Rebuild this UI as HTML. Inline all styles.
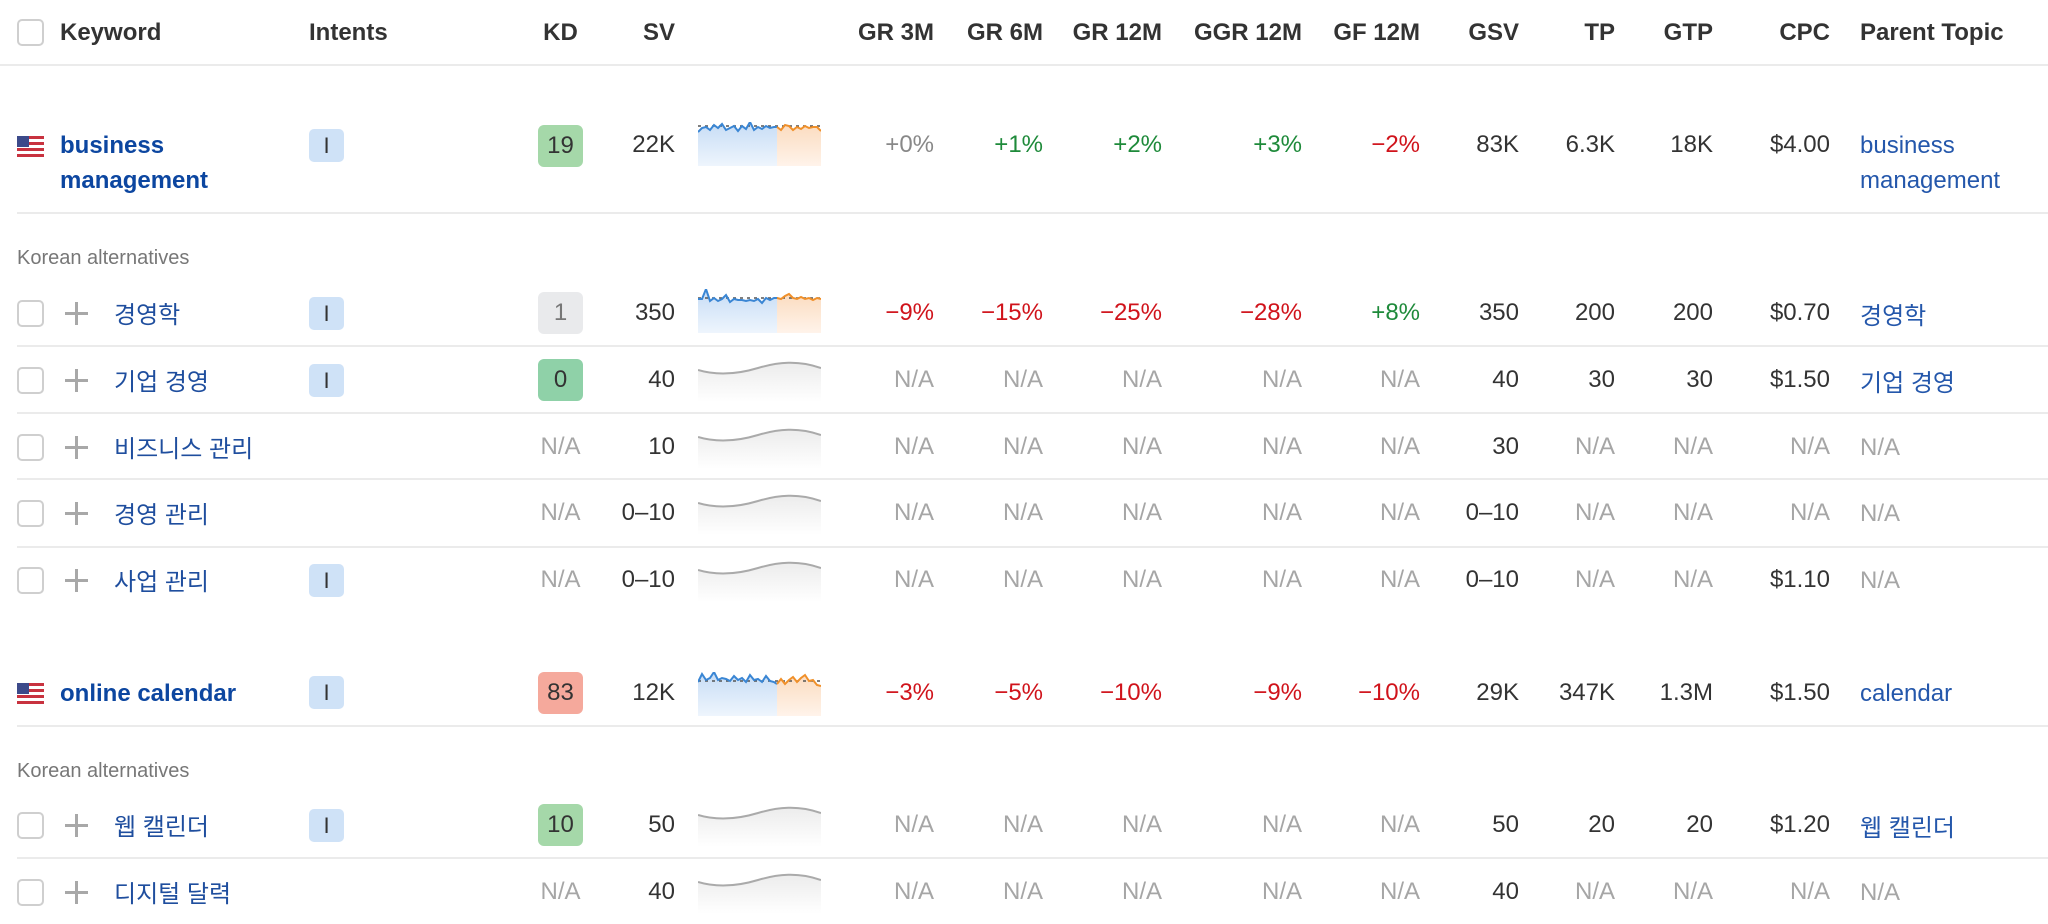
<!DOCTYPE html>
<html><head><meta charset="utf-8">
<style>
*{margin:0;padding:0;box-sizing:border-box}
body{width:2048px;height:924px;background:#fff;position:relative;overflow:hidden;font-family:"Liberation Sans","Noto Sans CJK KR",sans-serif;font-size:24px;color:#333}
.a{position:absolute;height:34px;line-height:34px;white-space:nowrap}
.r{text-align:right}
.h{font-weight:bold;color:#333}
.sep{position:absolute;left:17px;right:0;height:2px;background:#ebebeb}
.cb{position:absolute;left:17px;width:27px;height:27px;border:2px solid #cfcfcf;border-radius:5px;background:#fff}
.plus{position:absolute;left:65px;width:23px;height:23px}
.plus:before{content:"";position:absolute;left:10px;top:0;width:2.5px;height:23px;background:#a8a8a8}
.plus:after{content:"";position:absolute;left:0;top:10px;width:23px;height:2.5px;background:#a8a8a8}
.kw{position:absolute;left:114px;height:34px;line-height:34px;color:#1f4e9e;font-size:24px;margin-top:3px}
.mk{position:absolute;left:60px;color:#0c46a0;font-weight:bold;font-size:24px;line-height:35px}
.ib{position:absolute;left:309px;width:35px;height:33px;border-radius:5px;background:#cfe2f7;color:#333;text-align:center;line-height:33px;font-size:22px}
.kd{position:absolute;left:538px;width:45px;height:42px;border-radius:6px;text-align:center;line-height:42px;font-size:24px;color:#333}
.na{color:#a6a6a6}
.g{color:#1e8a3a}.rd{color:#d0131b}.gr{color:#888}
.pt{position:absolute;left:1860px;color:#2457ab;line-height:35px}
.ko{margin-top:3px}
.lab{position:absolute;left:17px;font-size:20px;color:#777}
.flag{position:absolute;left:17px;width:27px;height:21px;background:repeating-linear-gradient(#c8323f 0 3px,#fff 3px 6px)}
.flag:before{content:"";position:absolute;left:0;top:0;width:12px;height:11px;background:#3c4a8a}
svg{position:absolute;left:698px}
</style></head><body>

<div class="cb" style="top:19px"></div>
<div class="a h" style="left:60px;top:16px">Keyword</div>
<div class="a h" style="left:309px;top:16px">Intents</div>
<div class="a h" style="left:538px;width:45px;text-align:center;top:16px">KD</div>
<div class="a h r" style="right:1373px;top:16px">SV</div>
<div class="a h r" style="right:1114px;top:16px">GR 3M</div>
<div class="a h r" style="right:1005px;top:16px">GR 6M</div>
<div class="a h r" style="right:886px;top:16px">GR 12M</div>
<div class="a h r" style="right:746px;top:16px">GGR 12M</div>
<div class="a h r" style="right:628px;top:16px">GF 12M</div>
<div class="a h r" style="right:529px;top:16px">GSV</div>
<div class="a h r" style="right:433px;top:16px">TP</div>
<div class="a h r" style="right:335px;top:16px">GTP</div>
<div class="a h r" style="right:218px;top:16px">CPC</div>
<div class="a h" style="left:1860px;top:16px">Parent Topic</div>
<div class="sep" style="top:64px;left:0"></div>

<svg width="0" height="0"><defs>
<linearGradient id="bf" x1="0" y1="0" x2="0" y2="1"><stop offset="0" stop-color="#c6dcf5"/><stop offset="1" stop-color="#eef5fd"/></linearGradient>
<linearGradient id="of" x1="0" y1="0" x2="0" y2="1"><stop offset="0" stop-color="#fbdcc0"/><stop offset="1" stop-color="#fff3ea"/></linearGradient>
<linearGradient id="gf" x1="0" y1="0" x2="0" y2="1"><stop offset="0" stop-color="#ececec"/><stop offset="1" stop-color="#fff"/></linearGradient>
</defs></svg>

<div class="flag" style="top:136px"></div>
<div class="mk" style="top:128px">business<br>management</div>
<div class="ib" style="top:129px">I</div>
<div class="kd" style="top:125px;background:#a5d8a9">19</div>
<div class="a r" style="right:1373px;top:128px">22K</div>
<svg style="top:122px" width="123" height="44">
<path d="M0,10 L4,6 8,5 12,8 16,3 20,6 24,2 28,8 32,6 36,4 40,9 44,4 48,7 52,0 56,8 60,5 64,7 68,4 72,6 76,5 79,5 L79,44 0,44Z" fill="url(#bf)"/>
<path d="M79,5 L83,8 87,3 91,4 95,8 99,5 103,7 107,4 111,6 115,5 119,5 123,9 L123,44 79,44Z" fill="url(#of)"/>
<line x1="0" y1="4" x2="123" y2="4" stroke="#555" stroke-width="1.5" stroke-dasharray="3,4"/>
<polyline points="0,10 4,6 8,5 12,8 16,3 20,6 24,2 28,8 32,6 36,4 40,9 44,4 48,7 52,0 56,8 60,5 64,7 68,4 72,6 76,5 79,5" fill="none" stroke="#3a86d4" stroke-width="2"/>
<polyline points="79,5 83,8 87,3 91,4 95,8 99,5 103,7 107,4 111,6 115,5 119,5 123,9" fill="none" stroke="#f0902a" stroke-width="2"/>
</svg>
<div class="a r gr" style="right:1114px;top:128px">+0%</div>
<div class="a r g" style="right:1005px;top:128px">+1%</div>
<div class="a r g" style="right:886px;top:128px">+2%</div>
<div class="a r g" style="right:746px;top:128px">+3%</div>
<div class="a r rd" style="right:628px;top:128px">−2%</div>
<div class="a r" style="right:529px;top:128px">83K</div>
<div class="a r" style="right:433px;top:128px">6.3K</div>
<div class="a r" style="right:335px;top:128px">18K</div>
<div class="a r" style="right:218px;top:128px">$4.00</div>
<div class="pt" style="top:128px">business<br>management</div>
<div class="sep" style="top:212px"></div>

<div class="lab" style="top:247px">Korean alternatives</div>

<div class="cb" style="top:300px"></div><div class="plus" style="top:302px"></div>
<div class="kw" style="top:296px">경영학</div>
<div class="ib" style="top:297px">I</div>
<div class="kd" style="top:292px;background:#e9eaec;color:#777">1</div>
<div class="a r" style="right:1373px;top:296px">350</div>
<svg style="top:289px" width="123" height="44">
<path d="M0,10 L4,10 8,0 12,12 16,9 20,12 24,10 28,6 32,13 36,10 40,11 44,11 48,12 52,11 56,12 60,10 64,14 68,9 72,11 76,9 79,9 L79,44 0,44Z" fill="url(#bf)"/>
<path d="M79,9 L83,10 87,7 91,5 95,9 99,10 103,8 107,10 111,9 115,11 119,9 123,10 L123,44 79,44Z" fill="url(#of)"/>
<line x1="0" y1="9" x2="123" y2="9" stroke="#555" stroke-width="1.5" stroke-dasharray="3,4"/>
<polyline points="0,10 4,10 8,0 12,12 16,9 20,12 24,10 28,6 32,13 36,10 40,11 44,11 48,12 52,11 56,12 60,10 64,14 68,9 72,11 76,9 79,9" fill="none" stroke="#3a86d4" stroke-width="2"/>
<polyline points="79,9 83,10 87,7 91,5 95,9 99,10 103,8 107,10 111,9 115,11 119,9 123,10" fill="none" stroke="#f0902a" stroke-width="2"/>
</svg>
<div class="a r rd" style="right:1114px;top:296px">−9%</div>
<div class="a r rd" style="right:1005px;top:296px">−15%</div>
<div class="a r rd" style="right:886px;top:296px">−25%</div>
<div class="a r rd" style="right:746px;top:296px">−28%</div>
<div class="a r g" style="right:628px;top:296px">+8%</div>
<div class="a r" style="right:529px;top:296px">350</div>
<div class="a r" style="right:433px;top:296px">200</div>
<div class="a r" style="right:335px;top:296px">200</div>
<div class="a r" style="right:218px;top:296px">$0.70</div>
<div class="pt ko" style="top:296px">경영학</div>
<div class="sep" style="top:345px"></div>

<div class="cb" style="top:367px"></div><div class="plus" style="top:369px"></div>
<div class="kw" style="top:363px">기업 경영</div>
<div class="ib" style="top:364px">I</div>
<div class="kd" style="top:359px;background:#8fd1a8">0</div>
<div class="a r" style="right:1373px;top:363px">40</div>
<svg style="top:358px" width="123" height="44"><path d="M0,12 C20,18 40,16 60,10 S100,2 123,10 L123,44 0,44Z" fill="url(#gf)"/><path d="M0,12 C20,18 40,16 60,10 S100,2 123,10" fill="none" stroke="#aaa" stroke-width="2"/></svg>
<div class="a r na" style="right:1114px;top:363px">N/A</div>
<div class="a r na" style="right:1005px;top:363px">N/A</div>
<div class="a r na" style="right:886px;top:363px">N/A</div>
<div class="a r na" style="right:746px;top:363px">N/A</div>
<div class="a r na" style="right:628px;top:363px">N/A</div>
<div class="a r" style="right:529px;top:363px">40</div>
<div class="a r" style="right:433px;top:363px">30</div>
<div class="a r" style="right:335px;top:363px">30</div>
<div class="a r" style="right:218px;top:363px">$1.50</div>
<div class="pt ko" style="top:363px">기업 경영</div>
<div class="sep" style="top:412px"></div>

<div class="cb" style="top:434px"></div><div class="plus" style="top:436px"></div>
<div class="kw" style="top:430px">비즈니스 관리</div>
<div class="a na" style="left:538px;width:45px;text-align:center;top:430px">N/A</div>
<div class="a r" style="right:1373px;top:430px">10</div>
<svg style="top:425px" width="123" height="44"><path d="M0,12 C20,18 40,16 60,10 S100,2 123,10 L123,44 0,44Z" fill="url(#gf)"/><path d="M0,12 C20,18 40,16 60,10 S100,2 123,10" fill="none" stroke="#aaa" stroke-width="2"/></svg>
<div class="a r na" style="right:1114px;top:430px">N/A</div>
<div class="a r na" style="right:1005px;top:430px">N/A</div>
<div class="a r na" style="right:886px;top:430px">N/A</div>
<div class="a r na" style="right:746px;top:430px">N/A</div>
<div class="a r na" style="right:628px;top:430px">N/A</div>
<div class="a r" style="right:529px;top:430px">30</div>
<div class="a r na" style="right:433px;top:430px">N/A</div>
<div class="a r na" style="right:335px;top:430px">N/A</div>
<div class="a r na" style="right:218px;top:430px">N/A</div>
<div class="pt" style="top:430px;color:#a6a6a6">N/A</div>
<div class="sep" style="top:478px"></div>

<div class="cb" style="top:500px"></div><div class="plus" style="top:502px"></div>
<div class="kw" style="top:496px">경영 관리</div>
<div class="a na" style="left:538px;width:45px;text-align:center;top:496px">N/A</div>
<div class="a r" style="right:1373px;top:496px">0–10</div>
<svg style="top:491px" width="123" height="44"><path d="M0,12 C20,18 40,16 60,10 S100,2 123,10 L123,44 0,44Z" fill="url(#gf)"/><path d="M0,12 C20,18 40,16 60,10 S100,2 123,10" fill="none" stroke="#aaa" stroke-width="2"/></svg>
<div class="a r na" style="right:1114px;top:496px">N/A</div>
<div class="a r na" style="right:1005px;top:496px">N/A</div>
<div class="a r na" style="right:886px;top:496px">N/A</div>
<div class="a r na" style="right:746px;top:496px">N/A</div>
<div class="a r na" style="right:628px;top:496px">N/A</div>
<div class="a r" style="right:529px;top:496px">0–10</div>
<div class="a r na" style="right:433px;top:496px">N/A</div>
<div class="a r na" style="right:335px;top:496px">N/A</div>
<div class="a r na" style="right:218px;top:496px">N/A</div>
<div class="pt" style="top:496px;color:#a6a6a6">N/A</div>
<div class="sep" style="top:546px"></div>

<div class="cb" style="top:567px"></div><div class="plus" style="top:569px"></div>
<div class="kw" style="top:563px">사업 관리</div>
<div class="ib" style="top:564px">I</div>
<div class="a na" style="left:538px;width:45px;text-align:center;top:563px">N/A</div>
<div class="a r" style="right:1373px;top:563px">0–10</div>
<svg style="top:558px" width="123" height="44"><path d="M0,12 C20,18 40,16 60,10 S100,2 123,10 L123,44 0,44Z" fill="url(#gf)"/><path d="M0,12 C20,18 40,16 60,10 S100,2 123,10" fill="none" stroke="#aaa" stroke-width="2"/></svg>
<div class="a r na" style="right:1114px;top:563px">N/A</div>
<div class="a r na" style="right:1005px;top:563px">N/A</div>
<div class="a r na" style="right:886px;top:563px">N/A</div>
<div class="a r na" style="right:746px;top:563px">N/A</div>
<div class="a r na" style="right:628px;top:563px">N/A</div>
<div class="a r" style="right:529px;top:563px">0–10</div>
<div class="a r na" style="right:433px;top:563px">N/A</div>
<div class="a r na" style="right:335px;top:563px">N/A</div>
<div class="a r" style="right:218px;top:563px">$1.10</div>
<div class="pt" style="top:563px;color:#a6a6a6">N/A</div>

<div class="flag" style="top:683px"></div>
<div class="mk" style="top:676px">online calendar</div>
<div class="ib" style="top:676px">I</div>
<div class="kd" style="top:672px;background:#f5a99c">83</div>
<div class="a r" style="right:1373px;top:676px">12K</div>
<svg style="top:672px" width="123" height="44">
<path d="M0,10 L4,2 8,8 12,6 16,0 20,8 24,6 28,7 32,9 36,4 40,8 44,6 48,10 52,3 56,8 60,7 64,10 68,4 72,9 76,10 79,12 L79,44 0,44Z" fill="url(#bf)"/>
<path d="M79,12 L83,7 87,12 91,8 95,5 99,10 103,6 107,3 111,9 115,8 119,13 123,14 L123,44 79,44Z" fill="url(#of)"/>
<line x1="0" y1="9" x2="123" y2="9" stroke="#555" stroke-width="1.5" stroke-dasharray="3,4"/>
<polyline points="0,10 4,2 8,8 12,6 16,0 20,8 24,6 28,7 32,9 36,4 40,8 44,6 48,10 52,3 56,8 60,7 64,10 68,4 72,9 76,10 79,12" fill="none" stroke="#3a86d4" stroke-width="2"/>
<polyline points="79,12 83,7 87,12 91,8 95,5 99,10 103,6 107,3 111,9 115,8 119,13 123,14" fill="none" stroke="#f0902a" stroke-width="2"/>
</svg>
<div class="a r rd" style="right:1114px;top:676px">−3%</div>
<div class="a r rd" style="right:1005px;top:676px">−5%</div>
<div class="a r rd" style="right:886px;top:676px">−10%</div>
<div class="a r rd" style="right:746px;top:676px">−9%</div>
<div class="a r rd" style="right:628px;top:676px">−10%</div>
<div class="a r" style="right:529px;top:676px">29K</div>
<div class="a r" style="right:433px;top:676px">347K</div>
<div class="a r" style="right:335px;top:676px">1.3M</div>
<div class="a r" style="right:218px;top:676px">$1.50</div>
<div class="pt" style="top:676px">calendar</div>
<div class="sep" style="top:725px"></div>

<div class="lab" style="top:760px">Korean alternatives</div>

<div class="cb" style="top:812px"></div><div class="plus" style="top:814px"></div>
<div class="kw" style="top:808px">웹 캘린더</div>
<div class="ib" style="top:809px">I</div>
<div class="kd" style="top:804px;background:#a5d8a9">10</div>
<div class="a r" style="right:1373px;top:808px">50</div>
<svg style="top:803px" width="123" height="44"><path d="M0,12 C20,18 40,16 60,10 S100,2 123,10 L123,44 0,44Z" fill="url(#gf)"/><path d="M0,12 C20,18 40,16 60,10 S100,2 123,10" fill="none" stroke="#aaa" stroke-width="2"/></svg>
<div class="a r na" style="right:1114px;top:808px">N/A</div>
<div class="a r na" style="right:1005px;top:808px">N/A</div>
<div class="a r na" style="right:886px;top:808px">N/A</div>
<div class="a r na" style="right:746px;top:808px">N/A</div>
<div class="a r na" style="right:628px;top:808px">N/A</div>
<div class="a r" style="right:529px;top:808px">50</div>
<div class="a r" style="right:433px;top:808px">20</div>
<div class="a r" style="right:335px;top:808px">20</div>
<div class="a r" style="right:218px;top:808px">$1.20</div>
<div class="pt ko" style="top:808px">웹 캘린더</div>
<div class="sep" style="top:857px"></div>

<div class="cb" style="top:879px"></div><div class="plus" style="top:881px"></div>
<div class="kw" style="top:875px">디지털 달력</div>
<div class="a na" style="left:538px;width:45px;text-align:center;top:875px">N/A</div>
<div class="a r" style="right:1373px;top:875px">40</div>
<svg style="top:870px" width="123" height="44"><path d="M0,12 C20,18 40,16 60,10 S100,2 123,10 L123,44 0,44Z" fill="url(#gf)"/><path d="M0,12 C20,18 40,16 60,10 S100,2 123,10" fill="none" stroke="#aaa" stroke-width="2"/></svg>
<div class="a r na" style="right:1114px;top:875px">N/A</div>
<div class="a r na" style="right:1005px;top:875px">N/A</div>
<div class="a r na" style="right:886px;top:875px">N/A</div>
<div class="a r na" style="right:746px;top:875px">N/A</div>
<div class="a r na" style="right:628px;top:875px">N/A</div>
<div class="a r" style="right:529px;top:875px">40</div>
<div class="a r na" style="right:433px;top:875px">N/A</div>
<div class="a r na" style="right:335px;top:875px">N/A</div>
<div class="a r na" style="right:218px;top:875px">N/A</div>
<div class="pt" style="top:875px;color:#a6a6a6">N/A</div>

</body></html>
